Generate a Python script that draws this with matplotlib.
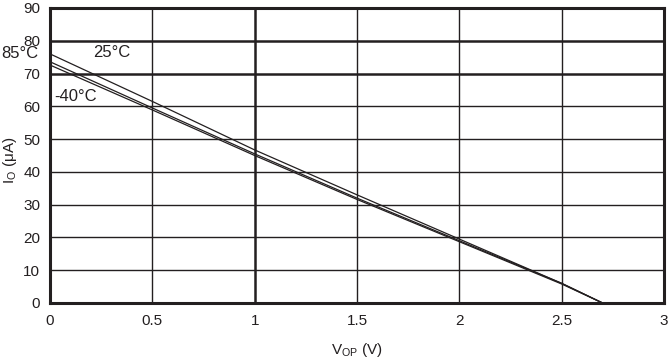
import matplotlib
matplotlib.use("Agg")
import matplotlib.pyplot as plt

plt.rcParams['font.family'] = ['Liberation Sans', 'DejaVu Sans']

vop = [0.0, 0.5, 1.0, 1.5, 2.0, 2.5, 2.7]
io_85 = [76.0, 61.5, 46.7, 33.0, 19.5, 6.0, 0.0]
io_25 = [73.6, 59.5, 45.5, 32.0, 19.0, 6.0, 0.0]
io_m40 = [72.6, 58.9, 45.0, 31.6, 18.7, 5.8, 0.0]

x_ticks = [0, 0.5, 1, 1.5, 2, 2.5, 3]
x_tick_labels = ["0", "0.5", "1", "1.5", "2", "2.5", "3"]
y_ticks = [0, 10, 20, 30, 40, 50, 60, 70, 80, 90]
y_tick_labels = [str(v) for v in y_ticks]

ink = "#231f20"

fig = plt.figure(figsize=(6.69, 3.58), dpi=100)
ax = fig.add_axes([50/669, 1-303/358, 614/669, 295/358])

ax.set_xlim(0, 3)
ax.set_ylim(0, 90)

# grid
for xv in x_ticks[1:-1]:
    lw = 1.8 if xv == 1 else 1.0
    ax.axvline(xv, color=ink, lw=lw, zorder=1)
for yv in y_ticks[1:-1]:
    lw = 1.8 if yv in (70, 80) else 1.0
    ax.axhline(yv, color=ink, lw=lw, zorder=1)

for ys in (io_85, io_25, io_m40):
    ax.plot(vop, ys, color=ink, lw=0.9, zorder=3)

for s in ax.spines.values():
    s.set_linewidth(2.2)
    s.set_color(ink)

ax.set_xticks(x_ticks)
ax.set_xticklabels(x_tick_labels)
ax.set_yticks(y_ticks)
ax.set_yticklabels(y_tick_labels)
ax.tick_params(length=0, labelsize=11, colors=ink)
ax.tick_params(axis='y', pad=7)
ax.tick_params(axis='x', pad=8)

ax.set_xlabel(r"V$_{\mathregular{OP}}$ (V)", fontsize=11, color=ink)
ax.xaxis.set_label_coords((357-50)/614, -(350-303)/295)
ax.xaxis.label.set_va('center')
ax.set_ylabel(r"I$_{\mathregular{O}}$ ($\mathregular{\mu}$A)", fontsize=11, color=ink)
ax.yaxis.set_label_coords(-(50-10)/614, (303-160)/295)
ax.yaxis.label.set_va('center')

ax.text(-0.055, 76.0, "85°C", ha='right', va='center',
        fontsize=12, color=ink, clip_on=False)
ax.text(0.21, 76.3, "25°C", ha='left', va='center', fontsize=12, color=ink)
ax.text(0.02, 63.0, "-40°C", ha='left', va='center', fontsize=12, color=ink)

fig.savefig("out.png", dpi=100)
